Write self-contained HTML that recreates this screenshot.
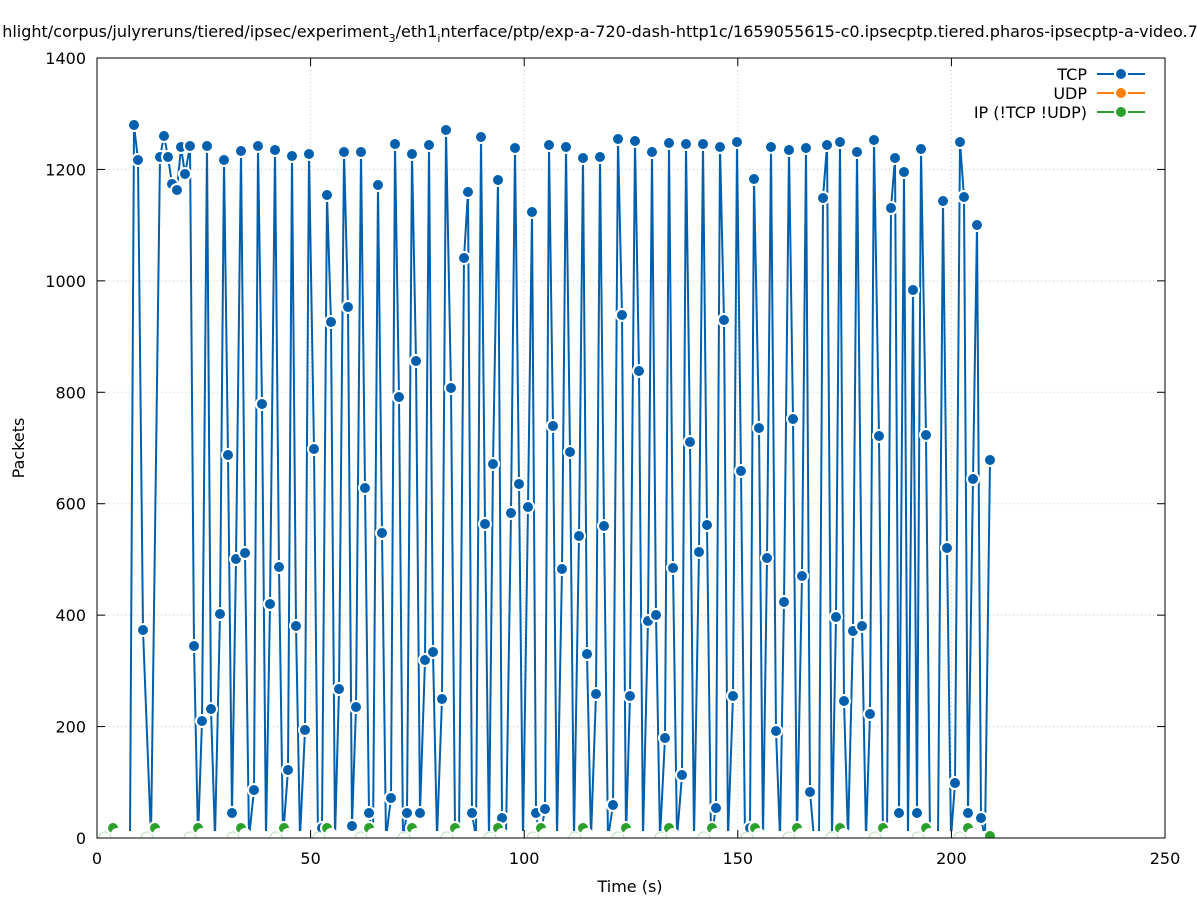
<!DOCTYPE html>
<html><head><meta charset="utf-8"><style>
body{margin:0;background:#fff;}
svg{font-family:"DejaVu Sans","Liberation Sans",sans-serif;}
</style></head><body>
<svg id="s" width="1197" height="900" xmlns="http://www.w3.org/2000/svg">
<defs><clipPath id="cp"><rect x="97" y="58" width="1068" height="780"/></clipPath></defs>
<rect width="1197" height="900" fill="#fff"/>
<g id="grid" stroke="#c8c8c8" stroke-width="1" stroke-dasharray="1,3"></g>
<g id="data" clip-path="url(#cp)"></g>
<rect x="97" y="58" width="1068" height="780" fill="none" stroke="#000" stroke-width="1"/>
<g id="ticks" font-size="16" fill="#000"></g>
<text x="630" y="892" font-size="16" text-anchor="middle">Time (s)</text>
<text x="24" y="448" font-size="16" text-anchor="middle" transform="rotate(-90 24 448)">Packets</text>
<text x="600" y="37" font-size="16" text-anchor="middle">hlight/corpus/julyreruns/tiered/ipsec/experiment<tspan font-size="11" dy="5">3</tspan><tspan dy="-5">/eth1</tspan><tspan font-size="11" dy="5">i</tspan><tspan dy="-5">nterface/ptp/exp-a-720-dash-http1c/1659055615-c0.ipsecptp.tiered.pharos-ipsecptp-a-video.7</tspan></text>
<g font-size="16" text-anchor="end">
<text x="1087" y="80">TCP</text>
<text x="1087" y="99">UDP</text>
<text x="1087" y="118">IP (!TCP  !UDP)</text>
</g>
<g stroke-width="2">
<line x1="1097" y1="74" x2="1145" y2="74" stroke="#0060ad"/><circle cx="1121" cy="74" r="6" fill="#0060ad" stroke="#fff"/>
<line x1="1097" y1="93" x2="1145" y2="93" stroke="#ff7f0e"/><circle cx="1121" cy="93" r="6" fill="#ff7f0e" stroke="#fff"/>
<line x1="1097" y1="112" x2="1145" y2="112" stroke="#2ca02c"/><circle cx="1121" cy="112" r="6" fill="#2ca02c" stroke="#fff"/>
</g>
</svg>
<script>
var NS="http://www.w3.org/2000/svg";
function el(p,t,a){var e=document.createElementNS(NS,t);for(var k in a)e.setAttribute(k,a[k]);p.appendChild(e);return e;}
var g=document.getElementById("grid"),tk=document.getElementById("ticks");
for(var i=0;i<=5;i++){var x=97+i*213.6;if(i>0&&i<5)el(g,"line",{x1:x,y1:58,x2:x,y2:838});
el(tk,"line",{x1:x,y1:838,x2:x,y2:830,stroke:"#000"});el(tk,"line",{x1:x,y1:58,x2:x,y2:66,stroke:"#000"});
var t=el(tk,"text",{x:x,y:864,"text-anchor":"middle"});t.textContent=i*50;}
for(var i=0;i<=7;i++){var y=838-i*111.43;if(i>0&&i<7)el(g,"line",{x1:97,y1:y,x2:1165,y2:y});
el(tk,"line",{x1:97,y1:y,x2:105,y2:y,stroke:"#000"});el(tk,"line",{x1:1165,y1:y,x2:1157,y2:y,stroke:"#000"});
var t=el(tk,"text",{x:86,y:y+6,"text-anchor":"end"});t.textContent=i*200;}
var d=[130,838,134,125,138,160,143,630,151,838,160,157,164,136,168,157,172,184,177,190,181,147,185,174,190,146,194,646,198,838,202,721,207,146,211,709,215,838,220,614,224,160,228,455,232,813,236,559,241,151,245,553,249,838,254,790,258,146,262,404,266,838,270,604,275,150,279,567,283,838,288,770,292,156,296,626,300,838,305,730,309,154,314,449,318,838,322,828,327,195,331,322,335,838,339,689,344,152,348,307,352,826,356,707,361,152,365,488,369,813,373,838,378,185,382,533,386,838,391,798,395,144,399,397,403,838,407,813,412,154,416,361,420,813,425,660,429,145,433,652,437,838,442,699,446,130,451,388,455,828,459,838,464,258,468,192,472,813,476,838,481,137,485,524,489,838,493,464,498,180,502,818,506,838,511,513,515,148,519,484,523,838,528,507,532,212,536,813,540,838,545,809,549,145,553,426,557,838,562,569,566,147,570,452,574,838,579,536,583,158,587,654,591,838,596,694,600,157,604,526,608,838,613,805,618,139,622,315,626,838,630,696,635,141,639,371,643,838,648,621,652,152,656,615,660,838,665,738,669,143,673,568,677,838,682,775,686,144,690,442,694,838,699,552,703,144,707,525,711,838,716,808,720,147,724,320,728,838,733,696,737,142,741,471,745,838,750,828,754,179,759,428,763,838,767,558,771,147,776,731,780,838,784,602,789,150,793,419,797,838,802,576,806,148,810,792,814,838,819,838,823,198,827,145,832,838,836,617,840,142,844,701,848,838,853,631,857,152,862,626,866,838,870,714,874,140,879,436,883,838,887,838,891,208,895,158,899,813,904,172,908,838,913,290,917,813,921,149,926,435,930,838,934,838,938,838,943,201,947,548,951,838,955,783,960,142,964,197,968,813,973,479,977,225,981,818,985,838,990,460];
var D=document.getElementById("data"),pts=[];
for(var i=0;i<d.length;i+=2)pts.push(d[i]+","+d[i+1]);
el(D,"polyline",{points:pts.join(" "),fill:"none",stroke:"#0060ad","stroke-width":2});
for(var i=0;i<d.length;i+=2){
 if(d[i+1]>=838)el(D,"circle",{cx:d[i],cy:838,r:6,fill:"#fff",stroke:"#fff","stroke-width":2});
 else el(D,"circle",{cx:d[i],cy:d[i+1],r:6,fill:"#0060ad",stroke:"#fff","stroke-width":2});}
var gx=[113,155,198,241,284,327,369,412,455,498,541,583,626,669,712,755,797,840,883,926,968];
for(var i=0;i<gx.length;i++){el(D,"circle",{cx:gx[i]-8,cy:838,r:6,fill:"#fff",stroke:"#b8dcb8","stroke-width":1});
el(D,"circle",{cx:gx[i],cy:828,r:6,fill:"#2ca02c",stroke:"#fff","stroke-width":2});
el(D,"circle",{cx:gx[i]+4,cy:834,r:6,fill:"#fff",stroke:"none"});}
el(D,"circle",{cx:990,cy:836,r:6,fill:"#2ca02c",stroke:"#fff","stroke-width":2});
</script>
</body></html>
